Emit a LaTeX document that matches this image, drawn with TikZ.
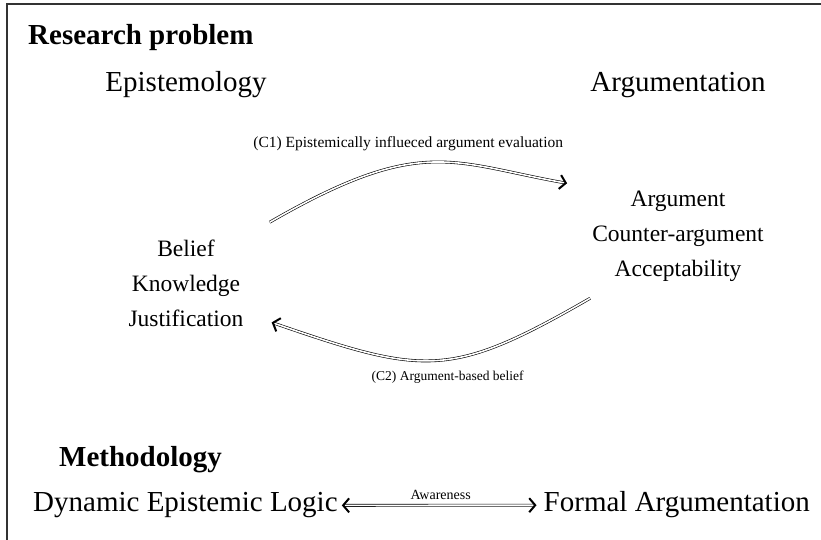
\documentclass[tikz,border=0pt]{standalone}
\usepackage{fontspec}
\setmainfont{Liberation Serif}
\usetikzlibrary{arrows.meta}

\begin{document}
\begin{tikzpicture}[x=1pt,y=1pt,
	heading/.style={font=\fontsize{29}{34}\selectfont\bfseries, inner sep=0pt},
	topic/.style={font=\fontsize{29}{34}\selectfont, inner sep=0pt},
	notions/.style={font=\fontsize{23.5}{35}\selectfont, align=center, inner sep=0pt},
	lbl/.style={font=\fontsize{14.5}{16}\selectfont, inner sep=0pt},
	link/.style={double, double distance=1.6pt, line width=0.6pt},
	barb/.tip={Straight Barb[length=6pt, width=14pt, line width=2pt]}]
	\useasboundingbox (0,0) rectangle (821,540);
	\draw[line width=1.2pt, black!80] (821,536) -- (7,536) -- (7,0);
	% research problem
	\node[heading, anchor=base west] (rp) at (28,495) {Research problem};
	\node[topic, anchor=base] (epi) at (186,448) {Epistemology};
	\node[topic, anchor=base] (argu) at (678,448) {Argumentation};
	\node[notions, anchor=base] (beliefs) at (186,213) {Belief\\Knowledge\\Justification};
	\node[notions, anchor=base] (args) at (678,263) {Argument\\Counter-argument\\Acceptability};
	\draw[link, -barb] ([shift={(26,18)}]beliefs.north east) to[out=30, in=170, out looseness=1.5, in looseness=1]
		node[lbl, pos=0.5, above=11pt, xshift=-24pt, font=\fontsize{15.5}{17}\selectfont] (c1) {(C1) Epistemically influeced argument evaluation}
		([shift={(-25,8)}]args.north west);
	\draw[link, -barb] ([shift={(-2,-16)}]args.south west) to[out=210, in=341, looseness=1.3]
		node[lbl, pos=0.5, below=10pt, xshift=12pt, font=\fontsize{13.5}{15}\selectfont] (c2) {(C2) Argument-based belief}
		([shift={(28,5)}]beliefs.south east);
	% methodology
	\node[heading, anchor=base west] (meth) at (59,73) {Methodology};
	\node[topic, anchor=base west] (del) at (33,28) {Dynamic Epistemic Logic};
	\node[topic, anchor=base east] (fa) at (810,28) {Formal Argumentation};
	\draw[link, barb-barb, shorten <=4pt, shorten >=7pt] (del) -- (fa)
		node[lbl, midway, above=5pt, font=\fontsize{14}{15}\selectfont] (aw) {Awareness};
\end{tikzpicture}
\end{document}
